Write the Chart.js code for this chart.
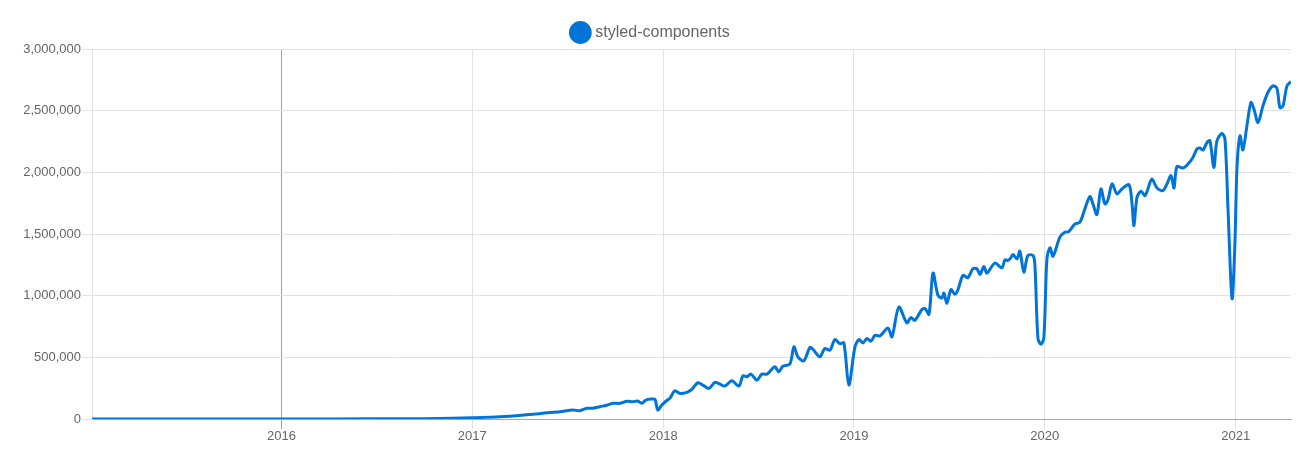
<!DOCTYPE html>
<html>
<head>
<meta charset="utf-8">
<script src="https://cdn.jsdelivr.net/npm/chart.js@4/dist/chart.umd.min.js"></script>
<style>
  html, body { margin: 0; padding: 0; background: #fff; }
  #wrap { width: 1309px; height: 451px; }
</style>
</head>
<body>
<div id="wrap"><canvas id="downloadsChart"></canvas></div>
<script>
// week (as decimal year) and weekly downloads
const weeks = [
    2015.007, 2016.0, 2016.5, 2016.75, 2016.9,
    2016.997, 2017.144, 2017.249, 2017.317, 2017.380, 2017.459, 2017.527, 2017.563, 2017.600, 2017.632,
    2017.668, 2017.705, 2017.736, 2017.773, 2017.810, 2017.841, 2017.867, 2017.888, 2017.909, 2017.941,
    2017.957, 2017.972, 2017.993, 2018.019, 2018.035, 2018.061, 2018.088, 2018.124, 2018.150, 2018.182,
    2018.208, 2018.240, 2018.271, 2018.297, 2018.323, 2018.360, 2018.397, 2018.418, 2018.439, 2018.460,
    2018.491, 2018.517, 2018.544, 2018.585, 2018.606, 2018.627, 2018.664, 2018.685, 2018.706, 2018.737,
    2018.769, 2018.785, 2018.821, 2018.847, 2018.874, 2018.900, 2018.926, 2018.947, 2018.973, 2019.005,
    2019.026, 2019.047, 2019.068, 2019.089, 2019.110, 2019.136, 2019.178, 2019.199, 2019.235, 2019.277,
    2019.298, 2019.319, 2019.356, 2019.372, 2019.393, 2019.414, 2019.440, 2019.461, 2019.471, 2019.487,
    2019.508, 2019.529, 2019.545, 2019.571, 2019.597, 2019.623, 2019.644, 2019.660, 2019.681, 2019.697,
    2019.738, 2019.775, 2019.791, 2019.807, 2019.822, 2019.833, 2019.854, 2019.869, 2019.890, 2019.911,
    2019.938, 2019.948, 2019.964, 2019.980, 2019.995, 2020.011, 2020.027, 2020.043, 2020.079, 2020.105,
    2020.126, 2020.158, 2020.184, 2020.210, 2020.236, 2020.252, 2020.273, 2020.294, 2020.315, 2020.331,
    2020.352, 2020.378, 2020.404, 2020.441, 2020.457, 2020.467, 2020.483, 2020.504, 2020.525, 2020.540,
    2020.561, 2020.588, 2020.619, 2020.640, 2020.661, 2020.677, 2020.692, 2020.724, 2020.750, 2020.776,
    2020.797, 2020.813, 2020.829, 2020.850, 2020.865, 2020.886, 2020.902, 2020.928, 2020.944, 2020.960,
    2020.981, 2020.996, 2021.007, 2021.023, 2021.038, 2021.059, 2021.080, 2021.096, 2021.117, 2021.143,
    2021.169, 2021.195, 2021.216, 2021.232, 2021.248, 2021.269, 2021.290
];
const downloads = [
    0, 500, 1500, 3000, 6000,
    10000, 18000, 28000, 38000, 48000, 59000, 73000, 67000, 87000, 87000,
    100000, 111000, 127000, 127000, 143000, 140000, 146000, 127000, 154000, 162000,
    160000, 73000, 113000, 150000, 167000, 229000, 207000, 216000, 240000, 294000,
    275000, 248000, 297000, 283000, 267000, 310000, 267000, 350000, 342000, 364000,
    315000, 364000, 364000, 423000, 383000, 428000, 445000, 585000, 504000, 471000,
    580000, 564000, 504000, 572000, 558000, 644000, 612000, 617000, 275000, 585000,
    644000, 617000, 652000, 631000, 679000, 674000, 738000, 666000, 908000, 779000,
    822000, 800000, 887000, 895000, 849000, 1183000, 1003000, 981000, 1021000, 940000,
    1049000, 1011000, 1049000, 1164000, 1146000, 1218000, 1218000, 1172000, 1237000, 1183000,
    1264000, 1226000, 1291000, 1286000, 1307000, 1334000, 1299000, 1361000, 1191000, 1326000,
    1326000, 1250000, 652000, 606000, 660000, 1300000, 1388000, 1320000, 1474000, 1515000,
    1520000, 1582000, 1596000, 1704000, 1803000, 1744000, 1658000, 1865000, 1744000, 1777000,
    1906000, 1825000, 1865000, 1900000, 1744000, 1569000, 1798000, 1846000, 1811000, 1865000,
    1946000, 1873000, 1852000, 1906000, 1973000, 1873000, 2046000, 2035000, 2067000, 2121000,
    2189000, 2197000, 2181000, 2242000, 2256000, 2040000, 2256000, 2315000, 2270000, 1700000,
    976000, 1420000, 2040000, 2296000, 2181000, 2377000, 2566000, 2512000, 2404000, 2539000,
    2647000, 2701000, 2682000, 2525000, 2539000, 2701000, 2736000
];
const yearTicks = [2016, 2017, 2018, 2019, 2020, 2021];
const packageName = 'styled-components';

// nudge the legend a few pixels, the original sits a little right and lower
const legendShift = {
    id: 'legendShift',
    afterLayout: function (chart) {
        if (chart.legend) {
            chart.legend.left += 6;
            chart.legend.right += 6;
            chart.legend.top += 1.5;
            chart.legend.bottom += 1.5;
        }
    }
};

document.addEventListener('DOMContentLoaded', function () {
    const points = weeks.map((w, i) => ({ x: w, y: downloads[i] }));

    const ctx = document.getElementById('downloadsChart').getContext('2d');
    new Chart(ctx, {
        type: 'line',
        data: {
            datasets: [{
                label: packageName,
                data: points,
                borderColor: '#0074D9',
                backgroundColor: '#0074D9',
                borderWidth: 3,
                pointRadius: 0,
                tension: 0.3,
                fill: false
            }]
        },
        plugins: [legendShift],
        options: {
            responsive: true,
            maintainAspectRatio: false,
            animation: false,
            layout: {
                padding: { top: 19, right: 18, bottom: 0, left: 0 }
            },
            plugins: {
                legend: {
                    position: 'top',
                    labels: {
                        usePointStyle: true,
                        pointStyle: 'circle',
                        boxWidth: 14,
                        boxHeight: 14,
                        padding: 4,
                        color: '#666',
                        font: { family: 'Liberation Sans, Arial, sans-serif', size: 16 }
                    }
                },
                tooltip: { enabled: false }
            },
            scales: {
                x: {
                    type: 'linear',
                    min: 2015.007,
                    max: 2021.29,
                    afterBuildTicks: function (scale) {
                        scale.ticks = yearTicks.map(v => ({ value: v }));
                    },
                    afterFit: function (scale) {
                        scale.height = 32;
                    },
                    ticks: {
                        color: '#666',
                        padding: 0,
                        font: { family: 'Liberation Sans, Arial, sans-serif', size: 13 },
                        maxRotation: 0,
                        callback: function (value) {
                            return String(Math.round(value));
                        }
                    },
                    grid: {
                        color: function (c) {
                            return c.tick && c.tick.value === 2016 ? '#a0a0a0' : '#e2e2e2';
                        },
                        tickLength: 10
                    },
                    border: { color: '#a8a8a8', width: 1 }
                },
                y: {
                    min: 0,
                    max: 3000000,
                    afterFit: function (scale) {
                        scale.width = 92;
                    },
                    ticks: {
                        stepSize: 500000,
                        color: '#666',
                        padding: 1,
                        font: { family: 'Liberation Sans, Arial, sans-serif', size: 13 },
                        callback: function (value) {
                            return value.toLocaleString('en-US');
                        }
                    },
                    grid: { color: '#e2e2e2', tickLength: 10 },
                    border: { color: '#e2e2e2' }
                }
            }
        }
    });
});
</script>
</body>
</html>
